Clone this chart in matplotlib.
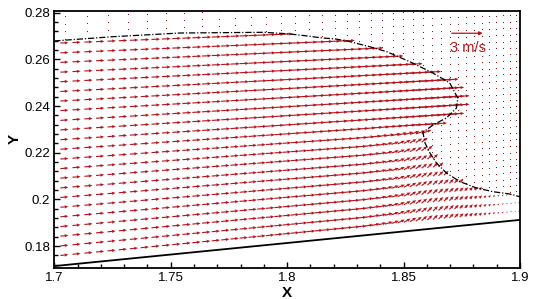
import numpy as np
import matplotlib
matplotlib.use('Agg')
import matplotlib.pyplot as plt
from matplotlib.path import Path
from matplotlib.ticker import MultipleLocator, FuncFormatter

plt.rcParams['font.family'] = ['Liberation Sans', 'DejaVu Sans']

# free surface (dash-dot line)
front_x = [1.700, 1.725, 1.754, 1.790, 1.801, 1.808, 1.814, 1.821, 1.827, 1.8355,
           1.8427, 1.8527, 1.8625, 1.8698, 1.8733, 1.8727, 1.8684, 1.8627, 1.8583,
           1.8592, 1.8613, 1.8641, 1.8684, 1.8742, 1.8813, 1.8883, 1.8956, 1.900]
front_y = [0.2679, 0.2697, 0.2713, 0.2716, 0.2709, 0.2701, 0.2693, 0.2687, 0.2676, 0.2654,
           0.2633, 0.2590, 0.2542, 0.2499, 0.2434, 0.2391, 0.2349, 0.2319, 0.2287,
           0.2242, 0.2199, 0.2156, 0.2113, 0.2076, 0.2049, 0.2033, 0.2023, 0.2011]

# bottom wall
wall_x = [1.7, 1.9]
wall_y = [0.1714, 0.1912]

# liquid vector rows, heights at x = 1.7
row_y0 = [0.1757, 0.1798, 0.1840, 0.1881, 0.1923, 0.1964, 0.2006, 0.2047, 0.2089,
          0.2130, 0.2171, 0.2213, 0.2254, 0.2296, 0.2337, 0.2379, 0.2420, 0.2461,
          0.2503, 0.2544, 0.2586, 0.2627, 0.2669]

# speed (m/s) along x, upper rows (near the front tip) and lower rows
spd_x = [1.70, 1.75, 1.80, 1.83, 1.85, 1.87, 1.89, 1.90]
spd_up = [0.78, 0.85, 0.95, 1.05, 1.20, 1.45, 1.45, 1.45]
spd_low = [0.78, 0.80, 0.82, 0.80, 0.75, 0.60, 0.20, 0.10]

# extra upward tilt (deg) of lower-row vectors
tilt_x = [1.70, 1.83, 1.845, 1.86, 1.88, 1.90]
tilt_low = [0, 0, 15, 38, 40, 20]

ref_speed = 3.0

y_mesh_top = 0.33


def wall(x):
    return np.interp(x, wall_x, wall_y)


def mesh_rows(x, y0):
    h0 = y_mesh_top - wall_y[0]
    h = y_mesh_top - wall(x)
    return wall(x) + (y0 - wall_y[0]) * h / h0


def columns(d0, d1):
    r = (0.2 - d0) / (0.2 - d1)
    xs = [1.7 + d0 / 2]
    d = d0
    while xs[-1] < 1.9:
        xs.append(xs[-1] + d)
        d *= r
    return np.array(xs[:-1])


fig = plt.figure(figsize=(5.33, 2.99), dpi=100)
ax = fig.add_axes([54.3 / 533, 31 / 299, 465.7 / 533, 257.3 / 299])

poly_x = front_x + [1.9, 1.7]
poly_y = front_y + [wall_y[1], wall_y[0]]
liquid = Path(np.column_stack([poly_x, poly_y]))

# liquid vectors
cx = columns(0.0052, 0.0017)
X, Y0 = np.meshgrid(cx, np.array(row_y0))
Y = mesh_rows(X, Y0)
inside = liquid.contains_points(np.column_stack([X.ravel(), Y.ravel()])).reshape(X.shape)
inside &= Y > wall(X) + 0.002

f = (Y - wall(X)) / (y_mesh_top - wall(X))
row_ang = np.arctan(0.099 * (1 - f))
w_up = np.clip((Y - 0.224) / 0.008, 0, 1)
spd = w_up * np.interp(X, spd_x, spd_up) + (1 - w_up) * np.interp(X, spd_x, spd_low)
ang = row_ang + (1 - w_up) * np.radians(np.interp(X, tilt_x, tilt_low))
U = spd * np.cos(ang)
V = spd * np.sin(ang)

scale = 1 / 0.00443
red = '#b5121b'
ax.quiver(X[inside], Y[inside], U[inside], V[inside], angles='xy',
          scale_units='xy', scale=scale, color=red, width=0.0024,
          headwidth=3, headlength=3.5, headaxislength=3, zorder=2)

# air: near-zero vectors shown as dots
ax_cols = columns(0.0093, 0.0025)
air_rows = np.arange(0.1690, 0.2900, 0.0032)
AX, AY0 = np.meshgrid(ax_cols, air_rows)
AY = mesh_rows(AX, AY0)
air = ~liquid.contains_points(np.column_stack([AX.ravel(), AY.ravel()])).reshape(AX.shape)
air &= AY > wall(AX) + 0.001
ax.plot(AX[air], AY[air], ',', color='#8b1515', zorder=2)

# free surface and wall
ax.plot(front_x, front_y, color='black', lw=0.9, ls=(0, (5, 1.5, 1, 1.5)), zorder=3)
ax.plot(wall_x, wall_y, color='black', lw=1.3, zorder=3)

# reference vector
ax.annotate('', xy=(1.8707 + ref_speed / scale, 0.2712), xytext=(1.8707, 0.2712),
            arrowprops=dict(arrowstyle='-|>', color=red, lw=0.9,
                            mutation_scale=5, shrinkA=0, shrinkB=0))
ax.text(1.8777, 0.2648, '3 m/s', color=red, fontsize=10.5, ha='center', va='center')

ax.set_xlim(1.7, 1.9)
ax.set_ylim(0.17058, 0.28086)
ax.xaxis.set_major_locator(MultipleLocator(0.05))
ax.xaxis.set_minor_locator(MultipleLocator(0.01))
ax.yaxis.set_major_locator(MultipleLocator(0.02))
ax.yaxis.set_minor_locator(MultipleLocator(0.004))
fmt = FuncFormatter(lambda v, p: '%g' % round(v, 3))
ax.xaxis.set_major_formatter(fmt)
ax.yaxis.set_major_formatter(fmt)
ax.tick_params(which='both', direction='in', top=False, right=False,
               labelsize=9.5, width=1)
ax.tick_params(which='major', length=4.2, pad=3)
ax.tick_params(which='minor', length=3)
for s in ax.spines.values():
    s.set_linewidth(1.3)
ax.set_xlabel('X', fontsize=11, fontweight='bold', labelpad=1)
ax.set_ylabel('Y', fontsize=11, fontweight='bold', labelpad=2)

fig.savefig('out.png', dpi=100)
